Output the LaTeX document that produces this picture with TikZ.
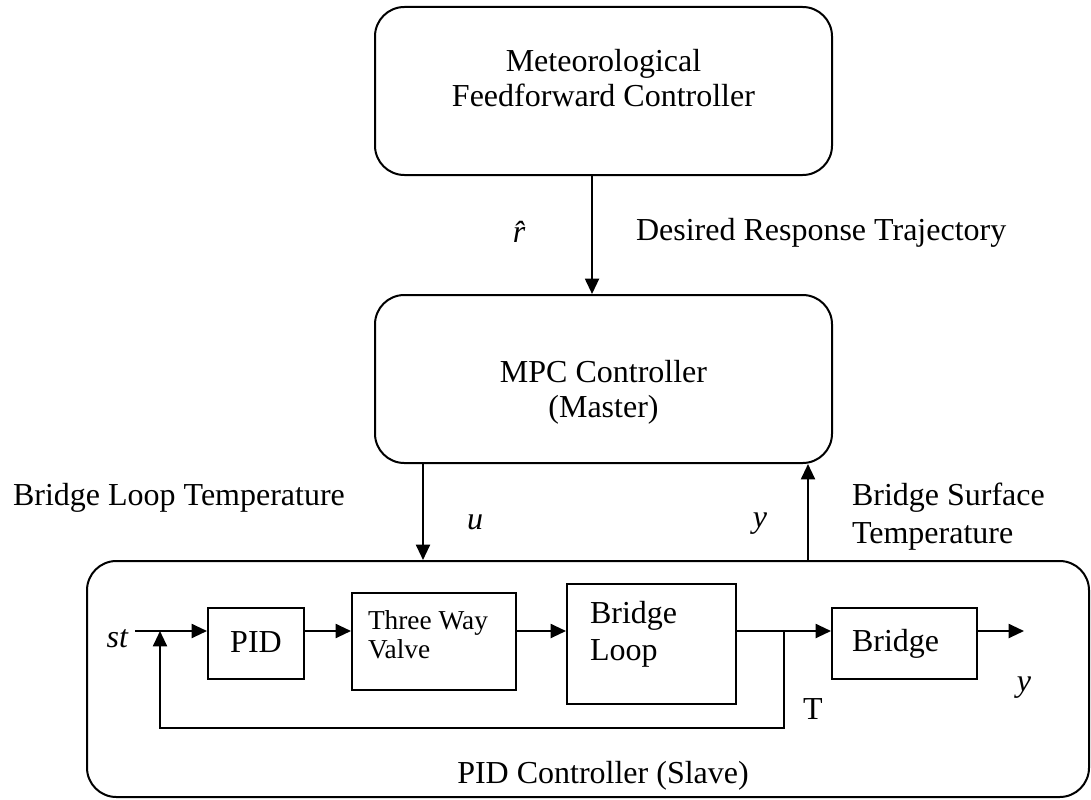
\documentclass[tikz,border=0pt]{standalone}
\usepackage{fontspec}
\setmainfont{Liberation Serif}
\usetikzlibrary{arrows.meta}
\newcommand{\figfont}{\fontsize{24}{26.25}\selectfont}
\newcommand{\valvefont}{\fontsize{20.5}{21.75}\selectfont}

\begin{document}
\begin{tikzpicture}[x=0.75pt,y=-0.75pt,line width=1.5pt,>={Triangle[length=11.5pt,width=10.5pt]}]
	\tikzstyle{every node}+=[inner sep=0pt,font=\figfont]
	\tikzstyle{ctlbox}=[draw,rounded corners=22pt,minimum width=342.75pt,minimum height=126pt]
	\tikzstyle{blk}=[draw]
	\useasboundingbox (0,0) rectangle (1091,799);

	\node[ctlbox] (ffc) at (603.5,91) {};
	\node[align=center] (ffctxt) at (603.5,78.5) {Meteorological\\Feedforward Controller};
	\node[ctlbox] (mpc) at (603.5,379) {};
	\node[align=center] (mpctxt) at (603.5,392) {MPC Controller\\(Master)};
	\draw[->] ([xshift=-8.6pt]ffc.south) -- ([xshift=-8.6pt]mpc.north);
	\node (rhat) at (525,232) {\textit{\^{r}}};
	\node[anchor=base west] (desired) at (635,240) {Desired Response Trajectory};

	\node[draw,rounded corners=22pt,minimum width=751.5pt,minimum height=177pt] (slave) at (588,679) {};
	\node[anchor=base] (slavelbl) at (603,783) {PID Controller (Slave)};

	\node[anchor=base west] (bltemp) at (12,505) {Bridge Loop Temperature};
	\coordinate (uin) at (423,0);
	\draw[->] (mpc.south -| uin) -- (slave.north -| uin);
	\node (u) at (475,522) {\textit{u}};

	\coordinate (yup) at (808,0);
	\draw[->] (slave.north -| yup) -- (mpc.south -| yup);
	\node (ymaster) at (760,524) {\textit{y}};
	\node[anchor=west,align=left,font=\fontsize{24}{28.5}\selectfont] (bstemp) at (851,516.5) {Bridge Surface\\Temperature};

	\coordinate (sig) at (0,631);
	\node[anchor=base east,inner xsep=4pt] (st) at (135,647) {\textit{st}};
	\node[blk,minimum width=72pt,minimum height=53.25pt,text depth=2pt] (pid) at (256,643.5) {PID};
	\node[blk,minimum width=123pt,minimum height=72.75pt] (valve) at (434,641.5) {};
	\node[anchor=west,align=left,font=\valvefont] (valvetxt) at (367,635) {Three Way\\Valve};
	\node[blk,minimum width=126.75pt,minimum height=90pt] (loop) at (651.5,644) {};
	\node[anchor=west,align=left,font=\fontsize{24}{27.5}\selectfont] (looptxt) at (589,634) {Bridge\\Loop};
	\node[blk,minimum height=53.25pt,text width=78.75pt,inner xsep=15pt] (bridge) at (904.5,643.5) {Bridge};

	\draw[->] (st.east |- sig) -- (pid.west |- sig);
	\draw[->] (pid.east |- sig) -- (valve.west |- sig);
	\draw[->] (valve.east |- sig) -- (loop.west |- sig);
	\coordinate (tap) at (784,631);
	\coordinate (fbl) at (160,728);
	\draw (loop.east |- sig) -- (tap);
	\draw[->] (tap) -- (bridge.west |- sig);
	\draw[->] (tap) -- (tap |- fbl) -- (fbl) -- (fbl |- sig);
	\node[anchor=base] (tlbl) at (813,719) {T};

	\coordinate (out) at (1024,631);
	\draw[->] (bridge.east |- sig) -- (out);
	\node (ylow) at (1024,688) {\textit{y}};
\end{tikzpicture}
\end{document}
